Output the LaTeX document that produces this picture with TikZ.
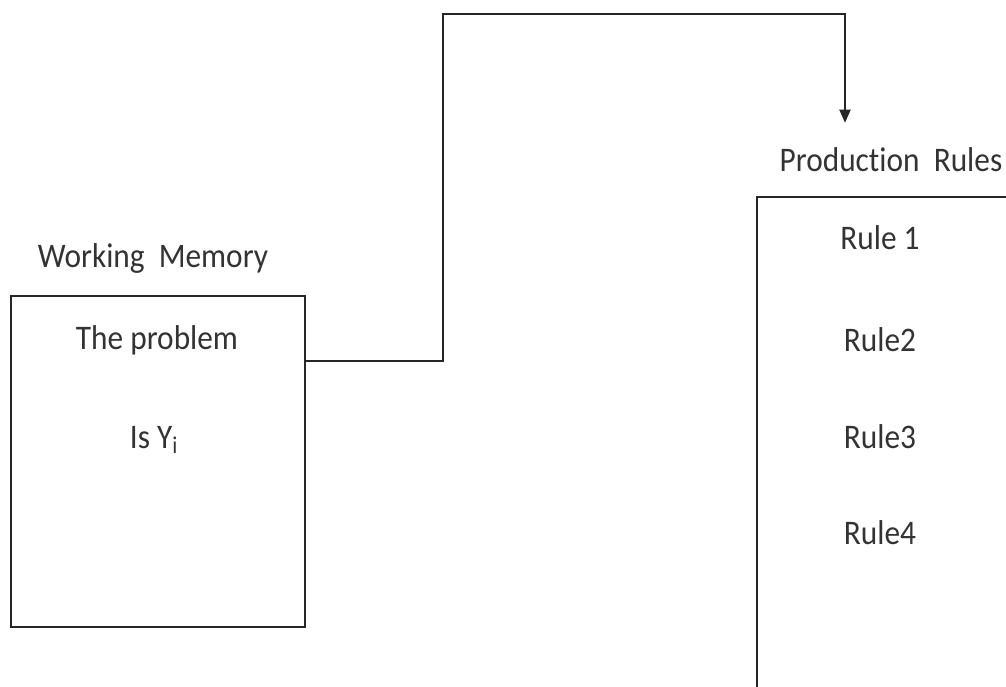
\documentclass[tikz,border=0pt]{standalone}
\usepackage{fontspec}
\setmainfont[RawFeature=-liga]{Carlito}
\usetikzlibrary{arrows.meta}
\begin{document}
\begin{tikzpicture}[x=0.75pt,y=-0.75pt,
  box/.style={draw=black!85,line width=2.2pt,rectangle,inner sep=0pt},
  lbl/.style={font=\fontsize{23.5}{28}\selectfont,text=black!80,inner sep=0pt,yscale=1.1},
  conn/.style={draw=black!85,line width=2.2pt},
  every node/.style={anchor=center}]
\useasboundingbox (0,0) rectangle (1006,686);
\clip (0,0) rectangle (1006,686);
\node[box,minimum width=294*0.75pt,minimum height=331*0.75pt] (wm) at (158,461.5) {};
\node[box,minimum width=400*0.75pt,minimum height=600*0.75pt] (pr) at (957,497) {};
\node[lbl] (wml) at (153,258) {Working\ \ Memory};
\node[lbl] (t1) at (157,340) {The problem};
\node[lbl] (t2) at (154,440) {Is Y\textsubscript{i}};
\node[lbl] (prl) at (891,160) {Production\ \ Rules};
\node[lbl] (r1) at (880,238) {Rule 1};
\node[lbl] (r2) at (880,340) {Rule2};
\node[lbl] (r3) at (880,437) {Rule3};
\node[lbl] (r4) at (880,533) {Rule4};
\coordinate (s) at (0,361);
\coordinate (bend) at (443,14);
\coordinate (tip) at (845,123);
\draw[conn,-{Triangle[length=10pt,width=8pt]}] (wm.north east |- s) -| (bend) -| (tip);
\end{tikzpicture}
\end{document}
